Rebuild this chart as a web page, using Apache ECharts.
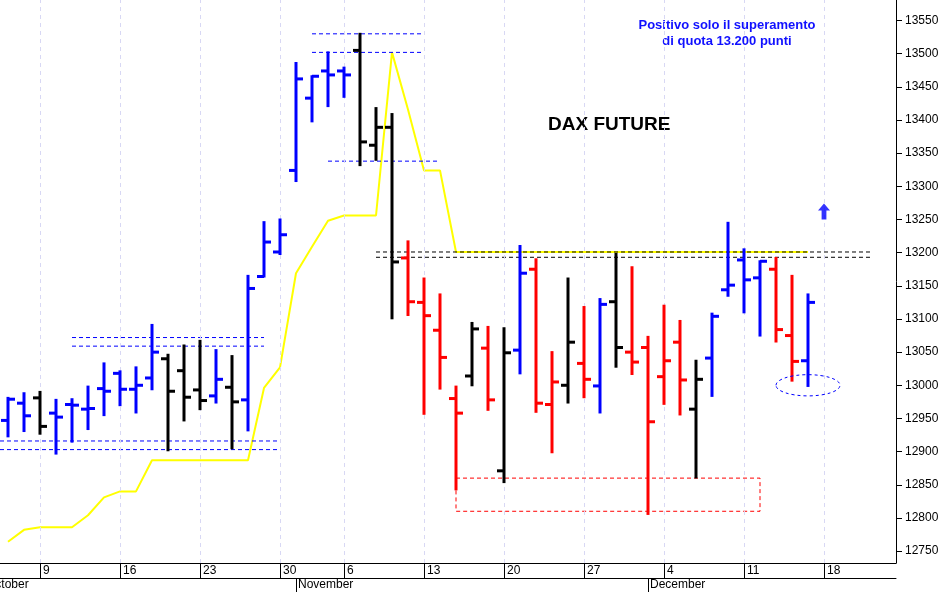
<!DOCTYPE html>
<html>
<head>
<meta charset="utf-8">
<script src="https://cdn.jsdelivr.net/npm/echarts@6/dist/echarts.min.js"></script>
<style>
html, body { margin: 0; padding: 0; background: #fff; }
#chart { width: 945px; height: 592px; }
</style>
</head>
<body>
<div id="chart"></div>
<script>
// giorni di contrattazione (31 ottobre chiuso)
var dates = ['10-05','10-06','10-09','10-10','10-11','10-12','10-13','10-16','10-17','10-18','10-19','10-20',
  '10-23','10-24','10-25','10-26','10-27','10-30','11-01','11-02','11-03','11-06','11-07','11-08','11-09','11-10',
  '11-13','11-14','11-15','11-16','11-17','11-20','11-21','11-22','11-23','11-24','11-27','11-28','11-29','11-30',
  '12-01','12-04','12-05','12-06','12-07','12-08','12-11','12-12','12-13','12-14','12-15','12-18','12-19','12-20',
  '12-21','12-22'];

var opens  = [12947,12973,12981,12958,12971,12964,12995,13018,12994,13011,13040,13022,12993,12984,12997,12978,13164,13201,
  13324,13433,13474,13474,13505,13362,13389,13192,13125,13083,12980,13014,13056,12871,13053,13175,12971,13000,13033,12999,
  13126,13050,13057,13013,13065,12964,13041,13144,13189,13162,13175,13075,13037];
var highs  = [12981,12988,12990,12978,12979,12998,13033,13021,13027,13091,13046,13060,13067,13053,13044,13165,13246,13250,
  13486,13466,13502,13479,13530,13418,13409,13217,13161,13137,12998,13094,13088,13086,13210,13190,13050,13161,13118,13130,
  13198,13178,13073,13120,13097,13037,13108,13245,13205,13187,13192,13165,13137];
var lows   = [12923,12931,12927,12897,12915,12934,12955,12970,12959,12994,12902,12947,12964,12974,12905,12932,13164,13198,
  13308,13398,13421,13435,13332,13340,13101,13106,12957,12995,12843,13000,12963,12854,13018,12960,12899,12974,12982,12959,
  13028,13017,12806,12972,12956,12861,12984,13135,13110,13075,13066,13007,12999];
var closes = [12979,12954,12938,12952,12970,12965,12991,12994,13000,13050,12991,12982,12977,13009,12975,13146,13216,13227,
  13462,13466,13468,13468,13367,13389,13186,13126,13105,13042,12958,13085,12978,13049,13169,12973,13005,13065,13009,13122,
  13057,13035,12945,13037,13008,13009,13104,13151,13159,13187,13084,13036,13125];
// b = rialzo, k = neutro, r = ribasso
var trend = ['b','b','k','b','b','b','b','b','b','b','k','k','k','b','k','b','b','b','b','b','b','b','k','k','k','r',
  'r','r','r','k','r','k','b','r','r','k','r','b','k','r','r','r','r','k','b','b','b','b','r','r','b'];

var yellowLine = [12764,12782,12786,12786,12786,12804,12831,12840,12840,12887,12887,12887,12887,12887,12887,12887,12996,13027,
  13169,13209,13248,13256,13256,13256,13502,13416,13324,13324,13201,13201,13201,13201,13201,13201,13201,13201,13201,13201,
  13201,13201,13201,13201,13201,13201,13201,13201,13201,13201,13201,13201,13201];

// livelli tratteggiati: [da, a, valore, colore]
var levels = [
  [4, 16, 13072, 'b'], [4, 16, 13059, 'b'],
  [-0.5, 17, 12916, 'b'], [-0.5, 17, 12903, 'b'],
  [19, 26, 13530, 'b'], [19, 26, 13502, 'b'],
  [20, 27, 13338, 'b'],
  [23, 54, 13201, 'k'], [23, 54, 13193, 'k']
];
var supportBox = [28, 47, 12810, 12860];
var targetZone = [50, 13000];
var arrowPoint = [51, 13262];

var mondays = [2, 7, 12, 17, 21, 26, 31, 36, 41, 46, 51];
var monthStarts = [18, 40];
var monthNames = {18: 'November', 40: 'December'};
var yTicks = [12750,12800,12850,12900,12950,13000,13050,13100,13150,13200,13250,13300,13350,13400,13450,13500,13550];

var colorMap = { b: '#0000ff', k: '#000000', r: '#ff0000' };

var chart = echarts.init(document.getElementById('chart'));

var ohlc = opens.map(function (o, i) { return [i, o, highs[i], lows[i], closes[i]]; });

var series = [];

series.push({
  type: 'line',
  data: yellowLine.map(function (v, i) { return [i, v]; }),
  showSymbol: false,
  lineStyle: { color: '#ffff00', width: 2 },
  itemStyle: { color: '#ffff00' },
  z: 2,
  markLine: {
    silent: true,
    symbol: 'none',
    label: { show: false },
    lineStyle: { color: '#d8d8f4', type: [4, 4], width: 1 },
    data: mondays.map(function (m) { return { xAxis: m }; })
  }
});

levels.forEach(function (l) {
  series.push({
    type: 'line',
    data: [[l[0], l[2]], [l[1], l[2]]],
    showSymbol: false,
    silent: true,
    color: colorMap[l[3]],
    itemStyle: { color: colorMap[l[3]] },
    lineStyle: { color: colorMap[l[3]], width: 1, type: [4, 3] },
    z: 3
  });
});

series.push({
  type: 'line',
  data: [[supportBox[0], supportBox[3]], [supportBox[1], supportBox[3]], [supportBox[1], supportBox[2]],
         [supportBox[0], supportBox[2]], [supportBox[0], supportBox[3]]],
  showSymbol: false,
  silent: true,
  lineStyle: { color: '#ff0000', width: 1, type: [4, 3] },
  z: 3
});

series.push({
  type: 'custom',
  data: ohlc,
  z: 5,
  renderItem: function (params, api) {
    var i = api.value(0);
    var o = api.coord([i, api.value(1)]);
    var h = api.coord([i, api.value(2)]);
    var l = api.coord([i, api.value(3)]);
    var c = api.coord([i, api.value(4)]);
    var col = colorMap[trend[params.dataIndex]];
    var st = { stroke: col, lineWidth: 3 };
    return {
      type: 'group',
      children: [
        { type: 'line', shape: { x1: h[0], y1: h[1] - 1, x2: l[0], y2: l[1] + 1 }, style: st },
        { type: 'line', shape: { x1: o[0] - 7, y1: o[1], x2: o[0], y2: o[1] }, style: st },
        { type: 'line', shape: { x1: c[0], y1: c[1], x2: c[0] + 7, y2: c[1] }, style: st }
      ]
    };
  }
});

series.push({
  type: 'custom',
  data: [targetZone],
  z: 6,
  renderItem: function (params, api) {
    var p = api.coord([api.value(0), api.value(1)]);
    var s = api.size([2, 16]);
    return {
      type: 'ellipse',
      shape: { cx: p[0], cy: p[1], rx: s[0], ry: s[1] },
      style: { fill: null, stroke: '#0000ff', lineWidth: 1, lineDash: [3, 3] }
    };
  }
});

series.push({
  type: 'scatter',
  data: [arrowPoint],
  symbol: 'path://M5,0 L10,6 L7,6 L7,14 L3,14 L3,6 L0,6 Z',
  symbolSize: [12, 16],
  itemStyle: { color: '#0000ff' },
  silent: true,
  z: 6
});

var option = {
  animation: false,
  backgroundColor: '#fff',
  grid: { left: 0, right: 49, top: 0, bottom: 29 },
  xAxis: [{
    type: 'value', min: -0.5, max: 55.5, position: 'bottom',
    axisLine: { onZero: false, lineStyle: { color: '#000' } },
    axisTick: { customValues: mondays, length: 15, lineStyle: { color: '#000' } },
    axisLabel: {
      customValues: mondays,
      formatter: function (v) { return String(parseInt(dates[v].slice(3), 10)); },
      align: 'left', padding: [0, 0, 0, 3], margin: 2,
      color: '#000', fontFamily: 'Liberation Sans', fontSize: 12
    },
    splitLine: { show: false }
  }, {
    type: 'value', min: -0.5, max: 55.5, position: 'bottom', offset: 15,
    axisLine: { onZero: false, lineStyle: { color: '#000' } },
    axisTick: { customValues: monthStarts, length: 15, lineStyle: { color: '#000' } },
    axisLabel: {
      customValues: monthStarts,
      formatter: function (v) { return monthNames[v]; },
      align: 'left', padding: [0, 0, 0, 2], margin: 1,
      color: '#000', fontFamily: 'Liberation Sans', fontSize: 12
    },
    splitLine: { show: false }
  }],
  yAxis: {
    type: 'value', min: 12732, max: 13581, position: 'right',
    axisLine: { show: true, onZero: false, lineStyle: { color: '#000' } },
    axisTick: { show: true, customValues: yTicks, length: 6, lineStyle: { color: '#000' } },
    axisLabel: {
      customValues: yTicks, margin: 9, color: '#000', fontFamily: 'Liberation Sans', fontSize: 12,
      formatter: function (v) { return String(v); }
    },
    splitLine: { show: false }
  },
  graphic: [
    { type: 'text', x: -14, y: 579, style: { text: 'October', font: '12px Liberation Sans', fill: '#000' } },
    { type: 'text', x: 727, y: 17, style: { text: 'Positivo solo il superamento\ndi quota 13.200 punti',
      font: 'bold 13px Liberation Sans', fill: '#1010ff', align: 'center', lineHeight: 16 } },
    { type: 'text', x: 548, y: 115, style: { text: 'DAX FUTURE', font: 'bold 19px Liberation Sans', fill: '#000' } }
  ],
  series: series
};

chart.setOption(option);
</script>
</body>
</html>
